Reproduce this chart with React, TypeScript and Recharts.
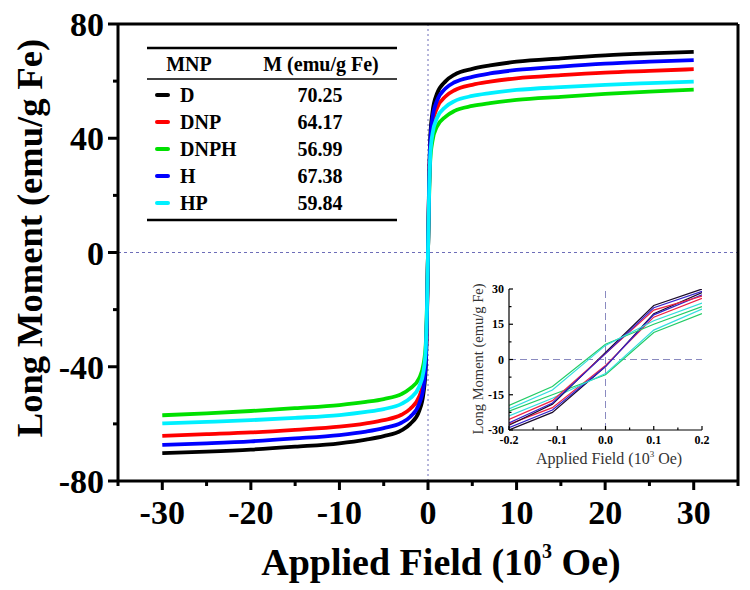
import React from 'react';
import { LineChart, Line, XAxis, YAxis, ReferenceLine } from 'recharts';

const FONT = "'Liberation Serif', 'Times New Roman', serif";

const SAMPLES = ['D', 'DNP', 'DNPH', 'H', 'HP'];
const SAMPLE_COLORS = ['#000000', '#ff0000', '#00e000', '#0000ff', '#00f0ff'];
const MS_LABELS = ['70.25', '64.17', '56.99', '67.38', '59.84'];

const FIELD = [-30, -25, -20, -15, -10, -7, -5, -3, -2, -1, -0.5, -0.25, -0.1, 0, 0.1, 0.25, 0.5, 1, 2, 3, 5, 7, 10, 15, 20, 25, 30];
const M_D = [-70.25, -69.7, -69, -68, -66.8, -65.5, -64.3, -62.3, -60, -55.5, -49, -40, -20, 0, 20, 40, 49, 55.5, 60, 62.3, 64.3, 65.5, 66.8, 68, 69, 69.7, 70.25];
const M_DNP = [-64.17, -63.6, -63, -62.1, -61, -59.8, -58.7, -56.8, -54.7, -50.5, -44.5, -36, -18, 0, 18, 36, 44.5, 50.5, 54.7, 56.8, 58.7, 59.8, 61, 62.1, 63, 63.6, 64.17];
const M_DNPH = [-56.99, -56.3, -55.5, -54.5, -53.4, -52.3, -51.3, -49.6, -47.6, -44, -39, -32, -16, 0, 16, 32, 39, 44, 47.6, 49.6, 51.3, 52.3, 53.4, 54.5, 55.5, 56.3, 56.99];
const M_H = [-67.38, -66.8, -66.1, -65.1, -63.9, -62.7, -61.5, -59.6, -57.5, -53, -47, -38, -19, 0, 19, 38, 47, 53, 57.5, 59.6, 61.5, 62.7, 63.9, 65.1, 66.1, 66.8, 67.38];
const M_HP = [-59.84, -59.3, -58.7, -57.9, -56.9, -55.8, -54.8, -53, -51, -47, -41.5, -33.5, -17, 0, 17, 33.5, 41.5, 47, 51, 53, 54.8, 55.8, 56.9, 57.9, 58.7, 59.3, 59.84];
const MAIN_SERIES = [M_D, M_DNP, M_DNPH, M_H, M_HP];

const MAIN_X_TICKS = [-35, -30, -25, -20, -15, -10, -5, 0, 5, 10, 15, 20, 25, 30, 35];
const MAIN_X_MAJOR = [-30, -20, -10, 0, 10, 20, 30];
const MAIN_Y_TICKS = [-80, -60, -40, -20, 0, 20, 40, 60, 80];
const MAIN_Y_MAJOR = [-80, -40, 0, 40, 80];

// Inset: low-field hysteresis branches
const INSET_FIELD = [-0.2, -0.11, 0, 0.1, 0.2];
const D_ASC = [-30, -22.5, -3, 19.5, 28.5];
const D_DESC = [-28, -19, 3, 23, 30];
const DNP_ASC = [-27.5, -20.5, -2.5, 18, 26];
const DNP_DESC = [-25.5, -17.5, 2.5, 21, 27];
const DNPH_ASC = [-22, -15, -6.5, 11.5, 19.5];
const DNPH_DESC = [-19.5, -11.5, 6.5, 15, 22.5];
const H_ASC = [-29, -21.5, -3, 19, 27.5];
const H_DESC = [-27, -18.5, 2.5, 22, 29];
const HP_ASC = [-24, -16.5, -6, 12.5, 21.5];
const HP_DESC = [-21, -13, 6, 16.5, 24];
const INSET_ASC = [D_ASC, DNP_ASC, DNPH_ASC, H_ASC, HP_ASC];
const INSET_DESC = [D_DESC, DNP_DESC, DNPH_DESC, H_DESC, HP_DESC];
const INSET_COLORS = ['#1a0a2a', '#ee2244', '#22cc66', '#3322cc', '#33dddd'];

const INSET_X_TICKS = [-0.2, -0.15, -0.1, -0.05, 0, 0.05, 0.1, 0.15, 0.2];
const INSET_X_MAJOR = [-0.2, -0.1, 0, 0.1, 0.2];
const INSET_Y_TICKS = [-30, -22.5, -15, -7.5, 0, 7.5, 15, 22.5, 30];
const INSET_Y_MAJOR = [-30, -15, 0, 15, 30];

const mainData = FIELD.map((f, i) => {
  const row: any = { field: f };
  SAMPLES.forEach((s, k) => { row[s] = MAIN_SERIES[k][i]; });
  return row;
});

const insetData = INSET_FIELD.map((f, i) => {
  const row: any = { field: f };
  SAMPLES.forEach((s, k) => {
    row[s + '_asc'] = INSET_ASC[k][i];
    row[s + '_desc'] = INSET_DESC[k][i];
  });
  return row;
});

const MainXTick = (p: any) => {
  const { x, y, payload } = p;
  const v = payload.value;
  const major = MAIN_X_MAJOR.includes(v);
  return (
    <g>
      <line x1={x} x2={x} y1={y} y2={y + (major ? 9 : 5)} stroke="#000" strokeWidth={3} />
      {major && (
        <text x={x} y={y + 43} textAnchor="middle" fontSize={34} fontWeight="bold" fontFamily={FONT} fill="#000">
          {String(v)}
        </text>
      )}
    </g>
  );
};

const MainYTick = (p: any) => {
  const { x, y, payload } = p;
  const v = payload.value;
  const major = MAIN_Y_MAJOR.includes(v);
  return (
    <g>
      <line x1={x} x2={x - (major ? 10 : 5)} y1={y} y2={y} stroke="#000" strokeWidth={3} />
      {major && (
        <text x={x - 14} y={y + 12} textAnchor="end" fontSize={34} fontWeight="bold" fontFamily={FONT} fill="#000">
          {String(v)}
        </text>
      )}
    </g>
  );
};

const InsetXTick = (p: any) => {
  const { x, y, payload } = p;
  const v = payload.value;
  const major = INSET_X_MAJOR.includes(v);
  return (
    <g>
      <line x1={x} x2={x} y1={y} y2={y - (major ? 4 : 2.5)} stroke="#000" strokeWidth={1.2} />
      {major && (
        <text x={x} y={y + 14} textAnchor="middle" fontSize={12} fontWeight="bold" fontFamily={FONT} fill="#000">
          {v.toFixed(1)}
        </text>
      )}
    </g>
  );
};

const InsetYTick = (p: any) => {
  const { x, y, payload } = p;
  const v = payload.value;
  const major = INSET_Y_MAJOR.includes(v);
  return (
    <g>
      <line x1={x} x2={x + (major ? 4 : 2.5)} y1={y} y2={y} stroke="#000" strokeWidth={1.2} />
      {major && (
        <text x={x - 5} y={y + 4} textAnchor="end" fontSize={12} fontWeight="bold" fontFamily={FONT} fill="#000">
          {String(v)}
        </text>
      )}
    </g>
  );
};

export default function App() {
  const rowY = (i: number) => 95 + i * 27;
  return (
    <div style={{ position: 'absolute', left: 0, top: 0, width: 750, height: 590, background: '#fff' }}>
      <LineChart width={750} height={590} data={mainData} margin={{ top: 24, right: 12, bottom: 0, left: 0 }}>
        <XAxis
          dataKey="field"
          type="number"
          domain={[-35, 35]}
          ticks={MAIN_X_TICKS}
          interval={0}
          tickSize={0}
          tickMargin={0}
          height={109}
          tick={(p: any) => <MainXTick {...p} />}
          tickLine={false}
          axisLine={{ stroke: '#000', strokeWidth: 3 }}
          allowDataOverflow
        />
        <YAxis
          type="number"
          domain={[-80, 80]}
          ticks={MAIN_Y_TICKS}
          interval={0}
          tickSize={0}
          tickMargin={0}
          width={118}
          tick={(p: any) => <MainYTick {...p} />}
          tickLine={false}
          axisLine={{ stroke: '#000', strokeWidth: 3 }}
          allowDataOverflow
        />
        <ReferenceLine x={0} stroke="#6d6db8" strokeDasharray="2 3" strokeWidth={1} />
        <ReferenceLine y={0} stroke="#6d6db8" strokeDasharray="3 3" strokeWidth={1} />
        <ReferenceLine y={80} stroke="#000" strokeWidth={3} />
        <ReferenceLine x={35} stroke="#000" strokeWidth={3} />
        {SAMPLES.map((s, k) => (
          <Line
            key={s}
            dataKey={s}
            type="monotone"
            stroke={SAMPLE_COLORS[k]}
            strokeWidth={3.8}
            dot={false}
            isAnimationActive={false}
          />
        ))}
      </LineChart>

      <div style={{ position: 'absolute', left: 440, top: 280 }}>
        <LineChart width={280} height={200} data={insetData} margin={{ top: 9, right: 18, bottom: 0, left: 0 }}>
          <XAxis
            dataKey="field"
            type="number"
            domain={[-0.2, 0.2]}
            ticks={INSET_X_TICKS}
            interval={0}
            tickSize={0}
            tickMargin={0}
            height={50}
            tick={(p: any) => <InsetXTick {...p} />}
            tickLine={false}
            axisLine={{ stroke: '#000', strokeWidth: 1.2 }}
            allowDataOverflow
          />
          <YAxis
            type="number"
            domain={[-30, 30]}
            ticks={INSET_Y_TICKS}
            interval={0}
            tickSize={0}
            tickMargin={0}
            width={69}
            tick={(p: any) => <InsetYTick {...p} />}
            tickLine={false}
            axisLine={{ stroke: '#000', strokeWidth: 1.2 }}
            allowDataOverflow
          />
          <ReferenceLine x={0} stroke="#8a8ac0" strokeDasharray="7 4" strokeWidth={1} />
          <ReferenceLine y={0} stroke="#8a8ac0" strokeDasharray="7 4" strokeWidth={1} />
          {SAMPLES.map((s, k) => (
            <Line key={s + 'a'} dataKey={s + '_asc'} type="linear" stroke={INSET_COLORS[k]} strokeWidth={1.2} dot={false} isAnimationActive={false} />
          ))}
          {SAMPLES.map((s, k) => (
            <Line key={s + 'd'} dataKey={s + '_desc'} type="linear" stroke={INSET_COLORS[k]} strokeWidth={1.2} dot={false} isAnimationActive={false} />
          ))}
        </LineChart>
      </div>

      <svg width={750} height={590} style={{ position: 'absolute', left: 0, top: 0, pointerEvents: 'none' }}>
        {/* main axis titles */}
        <text
          x={30}
          y={238}
          transform="rotate(-90 30 238)"
          textAnchor="middle"
          dy={12}
          fontSize={36.5}
          fontWeight="bold"
          fontFamily={FONT}
          fill="#000"
        >
          Long Moment (emu/g Fe)
        </text>
        <text x={441} y={575} textAnchor="middle" fontSize={38} fontWeight="bold" fontFamily={FONT} fill="#000">
          Applied Field (10
          <tspan fontSize={20} dy={-17}>3</tspan>
          <tspan dy={17}> Oe)</tspan>
        </text>

        {/* inset titles */}
        <text
          x={478}
          y={359}
          transform="rotate(-90 478 359)"
          textAnchor="middle"
          dy={5}
          fontSize={14.5}
          fontFamily={FONT}
          fill="#333"
        >
          Long Moment (emu/g Fe)
        </text>
        <text x={609} y={464} textAnchor="middle" fontSize={16} fontFamily={FONT} fill="#333">
          Applied Field (10
          <tspan fontSize={9} dy={-7}>3</tspan>
          <tspan dy={7}> Oe)</tspan>
        </text>

        {/* legend table */}
        <line x1={147} x2={397} y1={48} y2={48} stroke="#000" strokeWidth={2.5} />
        <line x1={147} x2={397} y1={79} y2={79} stroke="#000" strokeWidth={1.5} />
        <line x1={147} x2={397} y1={220} y2={220} stroke="#000" strokeWidth={2.5} />
        <text x={189} y={71} textAnchor="middle" fontSize={20} fontWeight="bold" fontFamily={FONT} fill="#000">MNP</text>
        <text x={321} y={71} textAnchor="middle" fontSize={20} fontWeight="bold" fontFamily={FONT} fill="#000">M (emu/g Fe)</text>
        {SAMPLES.map((s, i) => (
          <g key={s}>
            <line x1={157} x2={168} y1={rowY(i)} y2={rowY(i)} stroke={SAMPLE_COLORS[i]} strokeWidth={4} strokeLinecap="round" />
            <text x={180} y={rowY(i) + 7} fontSize={20} fontWeight="bold" fontFamily={FONT} fill="#000">{s}</text>
            <text x={320} y={rowY(i) + 7} textAnchor="middle" fontSize={20} fontWeight="bold" fontFamily={FONT} fill="#000">{MS_LABELS[i]}</text>
          </g>
        ))}
      </svg>
    </div>
  );
}
